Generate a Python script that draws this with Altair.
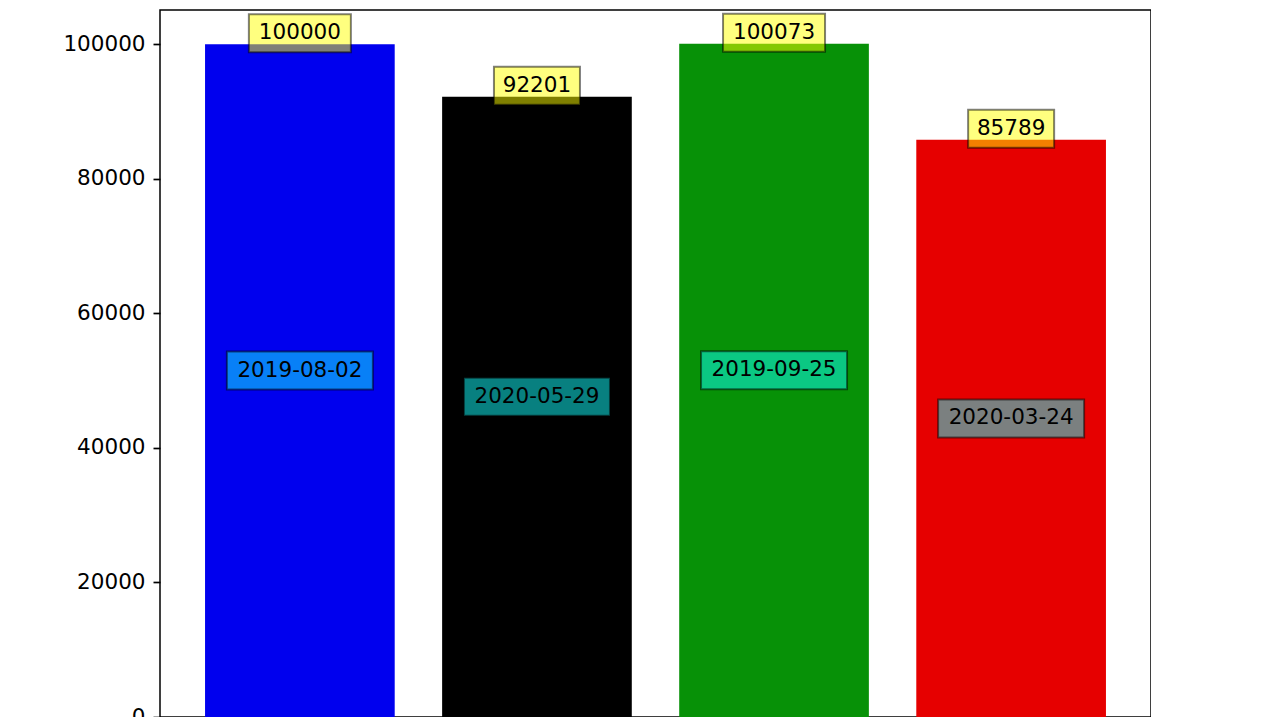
import altair as alt
import pandas as pd

dates = ["2019-08-02", "2020-05-29", "2019-09-25", "2020-03-24"]
values = [100000, 92201, 100073, 85789]
bar_colors = ["#0000ee", "#000000", "#079107", "#e60000"]
positions = [0, 1, 2, 3]
y_ticks = [0, 20000, 40000, 60000, 80000, 100000]

df = pd.DataFrame({"idx": positions, "date": dates, "value": values,
                   "color": bar_colors,
                   "vlabel": [str(v) for v in values],
                   "ndig": [len(str(v)) for v in values]})

FONT = "DejaVu Sans"
FS = 21.5
ymax = max(values) * 1.05

xs = alt.Scale(domain=[-0.59, 3.59], nice=False, zero=False)
ys = alt.Scale(domain=[0, ymax], nice=False, zero=False)

base = alt.Chart(df)

bars = base.transform_calculate(
    x0="datum.idx - 0.4", x1="datum.idx + 0.4"
).mark_rect().encode(
    x=alt.X("x0:Q", scale=xs, axis=alt.Axis(values=positions, labels=False, title=None,
                                            grid=False, tickSize=7, tickWidth=1.7,
                                            tickColor="black", domain=False)),
    x2="x1:Q",
    y=alt.Y("value:Q", scale=ys, axis=alt.Axis(values=y_ticks, format="d", title=None,
                                               grid=False, labelFont=FONT, labelFontSize=FS,
                                               labelColor="black", tickSize=7, tickWidth=1.7,
                                               tickColor="black", labelPadding=8, domain=False)),
    y2=alt.datum(0),
    color=alt.Color("color:N", scale=None),
)

def vbox(n, w):
    return base.transform_filter(f"datum.ndig == {n}").mark_rect(
        width=w, height=38, yOffset=-11, fill="#ffff00", fillOpacity=0.5,
        stroke="black", strokeOpacity=0.5, strokeWidth=2
    ).encode(x=alt.X("idx:Q", scale=xs), y=alt.Y("value:Q", scale=ys))

vtext = base.mark_text(font=FONT, fontSize=FS, color="black", baseline="middle",
                       dy=-11).encode(
    x=alt.X("idx:Q", scale=xs), y=alt.Y("value:Q", scale=ys), text="vlabel:N")

dbox = base.transform_calculate(half="datum.value / 2").mark_rect(
    width=146, height=38, yOffset=-10, fill="#10ffff", fillOpacity=0.5,
    stroke="black", strokeOpacity=0.5, strokeWidth=2
).encode(x=alt.X("idx:Q", scale=xs), y=alt.Y("half:Q", scale=ys))

dtext = base.transform_calculate(half="datum.value / 2").mark_text(
    font=FONT, fontSize=FS, color="black", baseline="middle", dy=-10
).encode(x=alt.X("idx:Q", scale=xs), y=alt.Y("half:Q", scale=ys), text="date:N")

chart = alt.layer(bars, vbox(6, 102), vbox(5, 86), dbox, vtext, dtext).properties(
    width=991, height=707,
    autosize=alt.AutoSizeParams(type="none"),
    padding={"left": 152, "top": 2, "right": 0, "bottom": 0},
    background="white",
).configure_view(stroke="black", strokeWidth=1.5)

chart.save("out.html", embed_options={"renderer": "svg", "actions": False})
